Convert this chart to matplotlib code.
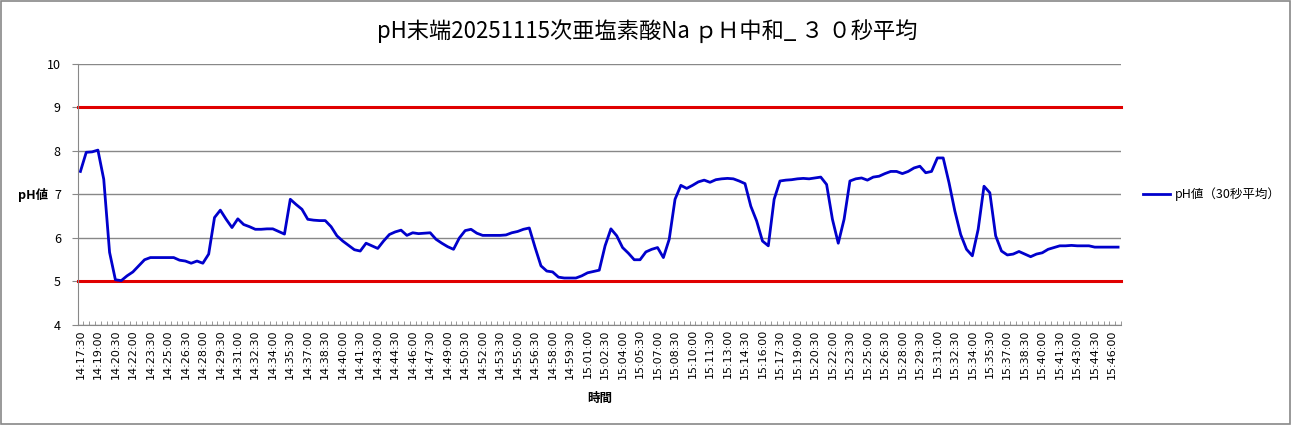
import pandas as pd
import matplotlib
matplotlib.use("Agg")
import matplotlib.pyplot as plt
from matplotlib.patches import Rectangle

plt.rcParams['font.family'] = ['Noto Sans CJK JP', 'DejaVu Sans']

# Chart data: pH every 30 seconds
title = "pH末端20251115次亜塩素酸Na ｐＨ中和_ ３ ０秒平均"
series_name = "pH値（30秒平均）"
start_time = "14:17:30"
ph_values = [
    7.53, 7.97, 7.98, 8.02, 7.35, 5.67, 5.04, 5.02, 5.13, 5.22,
    5.36, 5.50, 5.55, 5.55, 5.55, 5.55, 5.55, 5.49, 5.47, 5.42,
    5.47, 5.42, 5.63, 6.47, 6.64, 6.43, 6.24, 6.44, 6.31, 6.26,
    6.20, 6.20, 6.21, 6.21, 6.15, 6.09, 6.89, 6.77, 6.66, 6.43,
    6.41, 6.40, 6.40, 6.26, 6.05, 5.93, 5.83, 5.73, 5.70, 5.88,
    5.82, 5.76, 5.93, 6.08, 6.14, 6.18, 6.06, 6.12, 6.10, 6.11,
    6.12, 5.97, 5.88, 5.80, 5.74, 6.00, 6.17, 6.20, 6.11, 6.06,
    6.06, 6.06, 6.06, 6.07, 6.12, 6.15, 6.20, 6.23, 5.78, 5.36,
    5.24, 5.22, 5.10, 5.08, 5.08, 5.08, 5.13, 5.20, 5.23, 5.26,
    5.82, 6.21, 6.05, 5.78, 5.65, 5.50, 5.50, 5.68, 5.74, 5.78,
    5.55, 5.97, 6.89, 7.21, 7.14, 7.21, 7.29, 7.33, 7.28, 7.34,
    7.36, 7.37, 7.36, 7.31, 7.25, 6.73, 6.39, 5.93, 5.82, 6.89,
    7.31, 7.33, 7.34, 7.36, 7.37, 7.36, 7.38, 7.40, 7.23, 6.43,
    5.88, 6.43, 7.31, 7.36, 7.38, 7.33, 7.40, 7.42, 7.48, 7.53,
    7.53, 7.48, 7.53, 7.61, 7.65, 7.50, 7.53, 7.84, 7.84, 7.27,
    6.62, 6.08, 5.74, 5.59, 6.20, 7.19, 7.04, 6.05, 5.70, 5.61,
    5.63, 5.69, 5.63, 5.57, 5.63, 5.66, 5.74, 5.78, 5.82, 5.82,
    5.83, 5.82, 5.82, 5.82, 5.79, 5.79, 5.79, 5.79, 5.79,
]
upper_limit = 9
lower_limit = 5
y_ticks = [4, 5, 6, 7, 8, 9, 10]

times = pd.date_range("2025-11-15 " + start_time, periods=len(ph_values), freq="30s")
time_labels = [t.strftime("%H:%M:%S") for t in times]
x = list(range(len(ph_values)))

fig = plt.figure(figsize=(12.94, 4.26), dpi=100)
ax = fig.add_axes([0.0599, 0.2371, 0.8064, 0.6127])

# Gridlines and limit lines
ax.set_ylim(4, 10)
ax.set_xlim(-0.5, len(ph_values) - 0.5)
ax.set_yticks(y_ticks)
ax.yaxis.grid(True, color="#888888", lw=1)
ax.set_axisbelow(True)
ax.axhline(upper_limit, color="#E00000", lw=2.2, clip_on=False)
ax.axhline(lower_limit, color="#E00000", lw=2.2, clip_on=False)

ax.plot(x, ph_values, color="#0000CC", lw=2, solid_joinstyle="round", label=series_name)

# Axis styling
for s in ["top", "right"]:
    ax.spines[s].set_visible(False)
for s in ["left", "bottom"]:
    ax.spines[s].set_color("#888888")
ax.tick_params(axis="y", labelsize=9, length=4, color="#888888", pad=8)
ax.set_xticks(x[::3])
ax.set_xticklabels(time_labels[::3], rotation=90, fontsize=8, family="DejaVu Sans")
ax.tick_params(axis="x", length=0, pad=3)
ax.set_xticks([i + 0.5 for i in x], minor=True)
ax.tick_params(axis="x", which="minor", length=3, direction="in", color="#888888")

ax.set_ylabel("pH値", rotation=0, fontsize=9, fontweight="bold", va="center")
ax.yaxis.set_label_coords(-0.043, 0.5)
ax.set_xlabel("時間", fontsize=9, fontweight="bold")
ax.xaxis.set_label_coords(0.5, -0.255)

fig.suptitle(title, x=0.5, y=0.955, fontsize=16)

leg = ax.legend(loc="center left", bbox_to_anchor=(1.01, 0.5), frameon=False,
                fontsize=9, handlelength=2.2, handletextpad=0.4)

# Chart border
fig.patches.append(Rectangle((0.001, 0.004), 0.996, 0.994, transform=fig.transFigure,
                             fill=False, edgecolor="#888888", lw=1.2))

fig.savefig("out.png", dpi=100)
